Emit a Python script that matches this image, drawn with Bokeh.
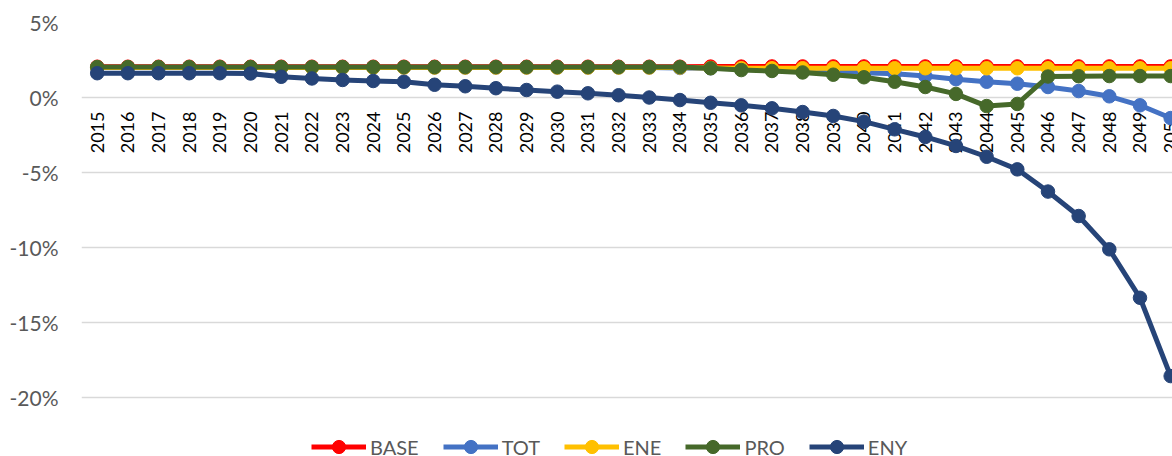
import math
from bokeh.plotting import figure
from bokeh.models import Range1d, FixedTicker, PrintfTickFormatter, Legend, LegendItem
from bokeh.core.properties import value
from bokeh.embed import file_html
from bokeh.resources import INLINE

years = list(range(2015, 2051))
year_labels = [str(y) for y in years]

series_names = ["BASE", "TOT", "ENE", "PRO", "ENY"]
series_colors = ["#FF0000", "#4472C4", "#FFC000", "#46692A", "#264478"]

base = [2.05, 2.05, 2.05, 2.05, 2.05, 2.05, 2.05, 2.05, 2.05, 2.05,
        2.05, 2.05, 2.05, 2.05, 2.05, 2.05, 2.05, 2.05, 2.05, 2.05,
        2.06, 2.06, 2.07, 2.07, 2.07, 2.07, 2.07, 2.07, 2.07, 2.07,
        2.07, 2.07, 2.07, 2.07, 2.07, 2.07]
tot = [2.0, 2.0, 2.0, 2.0, 2.0, 2.0, 2.0, 2.0, 2.0, 2.0,
       2.0, 2.0, 2.0, 2.0, 2.0, 2.0, 2.0, 2.0, 2.0, 1.97,
       1.95, 1.92, 1.88, 1.82, 1.73, 1.65, 1.58, 1.43, 1.22, 1.05,
       0.92, 0.70, 0.43, 0.08, -0.52, -1.37]
ene = [2.0, 2.0, 2.0, 2.0, 2.0, 2.0, 2.0, 2.0, 2.0, 2.0,
       2.0, 2.0, 2.0, 2.0, 2.0, 2.0, 2.0, 2.0, 2.0, 2.0,
       1.97, 1.95, 1.95, 1.95, 1.95, 1.95, 1.95, 1.95, 1.95, 1.95,
       1.95, 1.95, 1.95, 1.95, 1.95, 1.95]
pro = [2.03, 2.03, 2.03, 2.03, 2.03, 2.03, 2.03, 2.03, 2.03, 2.03,
       2.03, 2.03, 2.03, 2.03, 2.03, 2.03, 2.03, 2.03, 2.03, 2.03,
       1.95, 1.83, 1.77, 1.67, 1.52, 1.35, 1.05, 0.70, 0.24, -0.57,
       -0.43, 1.40, 1.42, 1.43, 1.43, 1.43]
eny = [1.62, 1.62, 1.62, 1.62, 1.62, 1.60, 1.38, 1.27, 1.17, 1.10,
       1.05, 0.85, 0.75, 0.62, 0.50, 0.39, 0.28, 0.15, 0.0, -0.17,
       -0.35, -0.52, -0.72, -0.97, -1.23, -1.61, -2.12, -2.63, -3.23, -3.95,
       -4.79, -6.27, -7.90, -10.12, -13.35, -18.57]

y_ticks = [-20, -15, -10, -5, 0, 5]

series_values = [base, tot, ene, pro, eny]

p = figure(width=1172, height=456,
           x_range=Range1d(2014.488, 2050.06), y_range=Range1d(-23.93, 5),
           output_backend="svg", toolbar_location=None, x_axis_location=None,
           min_border_left=81, min_border_right=0, min_border_top=22, min_border_bottom=0)

p.outline_line_color = None
p.background_fill_color = "white"
p.border_fill_color = "white"
p.xgrid.visible = False
p.ygrid.grid_line_color = "#D9D9D9"
p.ygrid.grid_line_width = 1.3

p.yaxis.ticker = FixedTicker(ticks=y_ticks)
p.yaxis.formatter = PrintfTickFormatter(format="%d%%")
p.yaxis.axis_line_color = None
p.yaxis.major_tick_line_color = None
p.yaxis.minor_tick_line_color = None
p.yaxis.major_tick_out = 0
p.yaxis.major_tick_in = 0
p.yaxis.minor_tick_out = 0
p.yaxis.minor_tick_in = 0
p.yaxis.major_label_standoff = 23
p.yaxis.major_label_text_font = "Lato"
p.yaxis.major_label_text_font_size = "21px"
p.yaxis.major_label_text_color = "#595959"
p.ygrid.ticker = FixedTicker(ticks=y_ticks)

# category labels along the 0% line
p.text(x=years, y=0, text=year_labels, angle=math.pi / 2,
       text_align="right", text_baseline="middle", y_offset=14,
       text_font=value("Lato"), text_font_size="18px", text_color="#000000")

items = []
for name, vals, col in zip(series_names, series_values, series_colors):
    ln = p.line(years, vals, line_width=5, line_color=col, line_join="round")
    sc = p.scatter(years, vals, size=13.5, fill_color=col, line_color=col)
    items.append(LegendItem(label=name, renderers=[ln, sc]))

legend = Legend(items=items, orientation="horizontal", location=(230, -7),
                glyph_width=55, glyph_height=33, label_standoff=4, spacing=24,
                padding=0, margin=0, border_line_color=None, background_fill_alpha=0,
                label_text_font="Lato", label_text_font_size="20px",
                label_text_color="#595959")
p.add_layout(legend)

open("out.html", "w").write(file_html(p, INLINE))
